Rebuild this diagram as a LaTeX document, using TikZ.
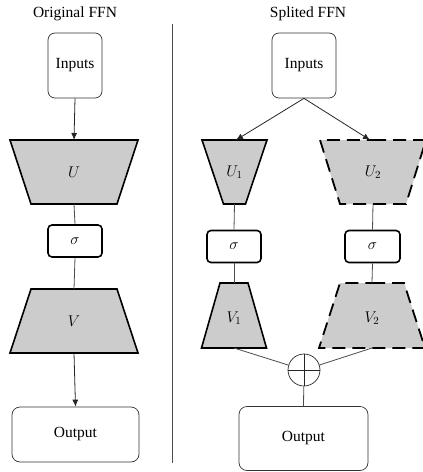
\RequirePackage{fix-cm}
\documentclass[tikz,border=0pt]{standalone}
\usepackage{fontspec}
\setmainfont{Liberation Serif}
\usetikzlibrary{arrows.meta}
\definecolor{trapfill}{gray}{0.8}
\definecolor{linegray}{gray}{0.3}
\tikzset{
  every node/.style={font=\fontsize{15.5}{18}\selectfont},
  iobox/.style={draw=black!80, line width=0.7pt, rounded corners=7pt, inner sep=0pt},
  actbox/.style={draw=black, line width=1.6pt, rounded corners=4pt, minimum width=54pt, minimum height=32pt, inner sep=0pt},
  trap/.style={fill=trapfill, draw=black, line width=1.6pt, line join=miter},
  dtrap/.style={fill=trapfill, draw=black, line width=1.8pt, dash pattern=on 13pt off 7pt},
  conn/.style={draw=linegray, line width=0.8pt},
  arr/.style={draw=black!85, line width=0.8pt, -{Latex[length=7pt,width=6pt]}},
  lbl/.style={inner sep=0pt},
}
\begin{document}
\begin{tikzpicture}[x=1pt,y=-1pt]
\useasboundingbox (0,0) rectangle (423,472);
\clip (0,0) rectangle (423,472);

% ---------- left: original FFN ----------
\node[lbl] (tl) at (75,14) {Original FFN};
\node[iobox, minimum width=54pt, minimum height=65pt] (inL) at (75,65.5) {Inputs};
% U trapezoid
\path[trap] (10,140) -- (138,140) -- (117,204) -- (31,204) -- cycle;
\coordinate (UtopL) at (74,140);
\coordinate (UbotL) at (74,204);
\node[lbl] (U) at (74,172) {$U$};
\node[actbox] (sL) at (75,241) {$\sigma$};
% V trapezoid
\path[trap] (31,289) -- (117,289) -- (138,353) -- (10,353) -- cycle;
\coordinate (VtopL) at (74,289);
\coordinate (VbotL) at (74,353);
\node[lbl] (V) at (74,321) {$V$};
\node[iobox, rounded corners=8pt, minimum width=127pt, minimum height=55pt] (outL) at (75.5,434.5) {Output};

\draw[arr] (inL.south) -- (UtopL);
\draw[conn] (UbotL) -- (sL.north);
\draw[conn] (sL.south) -- (VtopL);
\draw[arr] (VbotL) -- (outL.north);

% separator
\coordinate (sepT) at (172,24);
\coordinate (sepB) at (172,463);
\draw[draw=linegray, line width=0.8pt] (sepT) -- (sepB);

% ---------- right: splited FFN ----------
\node[lbl] (tr) at (308,14) {Splited FFN};
\node[iobox, minimum width=64pt, minimum height=65pt] (inR) at (304,65.5) {Inputs};

% U1
\path[trap] (202,140) -- (267,140) -- (245.5,204) -- (223.5,204) -- cycle;
\coordinate (U1top) at (236,140);
\coordinate (U1bot) at (234.5,204);
\node[lbl] (U1) at (234.5,172) {$U_1$};
% U2
\fill[trapfill] (320,140) -- (426,140) -- (406,204) -- (340,204) -- cycle;
\draw[dtrap] (373,140) -- (426,140) -- (406,204) -- (340,204) -- (320,140) -- cycle;
\coordinate (U2top) at (370,140);
\coordinate (U2bot) at (373,204);
\node[lbl] (U2) at (373,172) {$U_2$};

\node[actbox] (sR1) at (234,246.5) {$\sigma$};
\node[actbox, minimum width=55pt] (sR2) at (372.5,246.5) {$\sigma$};

% V1
\path[trap] (220,283) -- (248,283) -- (266.5,348) -- (201.5,348) -- cycle;
\coordinate (V1top) at (234,283);
\coordinate (V1bot) at (234,348);
\node[lbl] (V1) at (234,318) {$V_1$};
% V2
\fill[trapfill] (340,283) -- (404,283) -- (425,348) -- (319,348) -- cycle;
\draw[dtrap] (372,283) -- (404,283) -- (425,348) -- (319,348) -- (340,283) -- cycle;
\coordinate (V2top) at (372,283);
\coordinate (V2bot) at (372,348);
\node[lbl] (V2) at (372,318) {$V_2$};

% oplus
\node[draw=black!85, line width=0.7pt, circle, minimum size=32pt, inner sep=0pt] (plus) at (304,370) {};
\draw[black!85, line width=0.7pt] (plus.north) -- (plus.south) (plus.west) -- (plus.east);

\node[iobox, rounded corners=8pt, minimum width=129pt, minimum height=64pt] (outR) at (303.5,438.5) {Output};

\draw[arr] (inR.south) -- (U1top);
\draw[arr] (inR.south) -- (U2top);
\draw[conn] (U1bot) -- (sR1.north);
\draw[conn] (U2bot) -- (sR2.north);
\draw[conn] (sR1.south) -- (V1top);
\draw[conn] (sR2.south) -- (V2top);
\draw[conn] (V1bot) -- (plus);
\draw[conn] (V2bot) -- (plus);
\draw[conn] (plus) -- (outR.north);
\end{tikzpicture}
\end{document}
